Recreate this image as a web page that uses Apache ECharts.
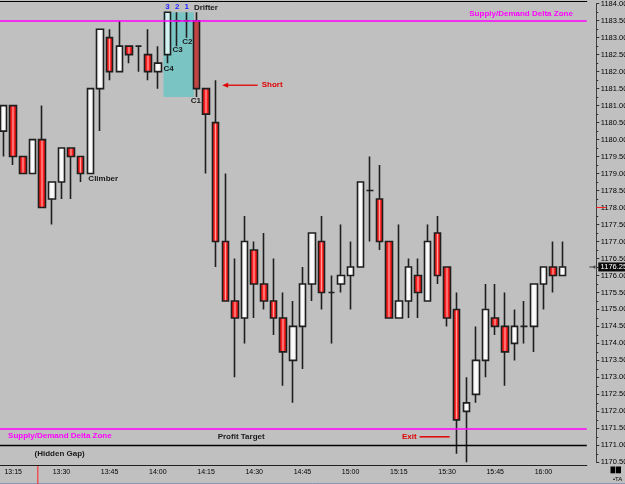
<!DOCTYPE html>
<html>
<head>
<meta charset="utf-8">
<script src="https://cdn.jsdelivr.net/npm/echarts@6/dist/echarts.min.js"></script>
<style>
  html, body { margin: 0; padding: 0; background: #c0c0c0; }
  #chart { width: 625px; height: 484px; }
</style>
</head>
<body>
<div id="chart"></div>
<script>
// 3-minute bars, 13:12 .. 16:06 (two empty slots at the right)
const times = [
  "13:12", "13:15", "13:18", "13:21", "13:24", "13:27", "13:30", "13:33", "13:36", "13:39",
  "13:42", "13:45", "13:48", "13:51", "13:54", "13:57", "14:00", "14:03", "14:06", "14:09",
  "14:12", "14:15", "14:18", "14:21", "14:24", "14:27", "14:30", "14:33", "14:36", "14:39",
  "14:42", "14:45", "14:48", "14:51", "14:54", "14:57", "15:00", "15:03", "15:06", "15:09",
  "15:12", "15:15", "15:18", "15:21", "15:24", "15:27", "15:30", "15:33", "15:36", "15:39",
  "15:42", "15:45", "15:48", "15:51", "15:54", "15:57", "16:00", "16:03", "16:06", "16:09",
  "16:12"
];
const openP = [
  1180.25, 1181.00, 1179.50, 1179.00, 1180.00, 1178.25, 1178.75, 1179.75, 1179.50, 1179.00,
  1181.50, 1183.00, 1182.00, 1182.75, 1182.75, 1182.50, 1182.00, 1182.50, 1183.50, 1183.50,
  1183.50, 1181.50, 1180.50, 1177.00, 1175.25, 1174.75, 1176.75, 1175.75, 1175.25, 1174.75,
  1173.50, 1174.50, 1175.75, 1177.00, 1175.50, 1175.75, 1176.00, 1176.25, 1178.50, 1178.25,
  1177.00, 1174.75, 1175.25, 1176.00, 1175.25, 1177.25, 1176.25, 1175.00, 1172.00, 1172.50,
  1173.50, 1174.75, 1174.50, 1174.00, 1174.50, 1174.50, 1175.75, 1176.25, 1176.00
];
const closeP = [
  1181.00, 1179.50, 1179.00, 1180.00, 1178.00, 1178.75, 1179.75, 1179.50, 1179.00, 1181.50,
  1183.25, 1182.00, 1182.75, 1182.50, 1182.75, 1182.00, 1182.25, 1183.75, 1183.50, 1183.50,
  1181.50, 1180.75, 1177.00, 1175.25, 1174.75, 1177.00, 1175.75, 1175.25, 1174.75, 1173.75,
  1174.50, 1175.75, 1177.25, 1175.50, 1175.50, 1176.00, 1176.25, 1178.75, 1178.50, 1177.00,
  1174.75, 1175.25, 1176.25, 1175.50, 1177.00, 1176.00, 1174.75, 1171.75, 1172.25, 1173.50,
  1175.00, 1174.50, 1173.75, 1174.50, 1174.50, 1175.75, 1176.25, 1176.00, 1176.25
];
const lowP = [
  1179.50, 1179.25, 1179.00, 1179.00, 1178.00, 1177.50, 1178.25, 1178.25, 1178.75, 1179.00,
  1180.25, 1181.75, 1182.00, 1182.25, 1182.00, 1181.75, 1181.50, 1182.25, 1182.75, 1183.00,
  1181.25, 1179.00, 1176.25, 1175.25, 1173.00, 1174.00, 1174.75, 1175.00, 1174.25, 1172.75,
  1172.25, 1173.25, 1175.25, 1175.00, 1174.00, 1175.50, 1175.00, 1176.25, 1177.00, 1176.75,
  1174.75, 1174.75, 1174.75, 1174.75, 1175.25, 1175.75, 1174.50, 1170.75, 1170.50, 1172.25,
  1173.00, 1174.25, 1172.75, 1173.50, 1174.00, 1173.75, 1175.00, 1175.50, 1176.00
];
const highP = [
  1181.00, 1181.00, 1179.50, 1180.00, 1181.00, 1178.75, 1179.75, 1179.75, 1179.50, 1181.50,
  1183.25, 1183.25, 1183.50, 1182.75, 1182.75, 1183.25, 1182.75, 1183.75, 1183.75, 1183.75,
  1183.75, 1181.50, 1181.75, 1179.00, 1176.50, 1177.75, 1177.00, 1177.25, 1176.50, 1175.50,
  1175.25, 1176.25, 1177.25, 1177.75, 1176.00, 1177.50, 1177.00, 1178.75, 1179.50, 1179.25,
  1177.00, 1177.50, 1176.50, 1176.50, 1177.50, 1177.75, 1176.25, 1175.50, 1173.00, 1174.50,
  1175.75, 1175.75, 1175.50, 1175.00, 1175.25, 1175.75, 1176.25, 1177.00, 1177.00
];
// price scale
const yMin = 1170.5;
const yMax = 1184;
const yStep = 0.5;
// levels
const supplyTop = 1183.5;
const supplyBottom = 1171.5;
const profitTarget = 1171.0;
const lastPrice = 1176.25;

const FONT = '"Liberation Sans", Arial, sans-serif';
const labelEvery = function (i) { return i % 5 === 1; };

let redFill = new echarts.graphic.LinearGradient(0, 0, 1, 0, [
  { offset: 0, color: "#d80000" },
  { offset: 0.35, color: "#ff2424" },
  { offset: 0.5, color: "#ff9c9c" },
  { offset: 0.65, color: "#ff2424" },
  { offset: 1, color: "#d80000" }
]);
let whiteFill = new echarts.graphic.LinearGradient(0, 0, 1, 0, [
  { offset: 0, color: "#e2e2e2" },
  { offset: 0.5, color: "#ffffff" },
  { offset: 1, color: "#e2e2e2" }
]);

let candleData = [];
for (let i = 0; i < openP.length; i++) {
  let item = { value: [openP[i], closeP[i], lowP[i], highP[i]] };
  if (i === 17) {
    item.itemStyle = { color: "#d2f2f2" };
  }
  if (i === 20) {
    item.itemStyle = { color0: "#c04646" };
  }
  candleData.push(item);
}

let myChart = echarts.init(document.getElementById("chart"));
let option = {
  animation: false,
  backgroundColor: "#c0c0c0",
  grid: { left: -1.22, top: 3.7, width: 588, height: 458.6, outerBoundsMode: "none", containLabel: false },
  xAxis: [
    {
      type: "category",
      data: times,
      boundaryGap: true,
      offset: 3.4,
      axisLine: { lineStyle: { color: "#202020", width: 1 } },
      axisTick: { interval: labelEvery, alignWithLabel: true, length: 4, lineStyle: { color: "#202020" } },
      axisLabel: { interval: labelEvery, fontSize: 7, fontFamily: FONT, color: "#000", margin: 3 },
      splitLine: { show: false }
    },
    {
      type: "category",
      data: times,
      position: "top",
      offset: 2,
      axisLine: { lineStyle: { color: "#000", width: 1 } },
      axisTick: { show: false },
      axisLabel: { show: false }
    }
  ],
  yAxis: {
    type: "value",
    position: "right",
    offset: 9.5,
    min: yMin,
    max: yMax,
    interval: yStep,
    axisLine: { show: true, lineStyle: { color: "#404040" } },
    axisTick: { show: true, length: 3, lineStyle: { color: "#303030" } },
    minorTick: { show: true, splitNumber: 2, length: 2, lineStyle: { color: "#303030" } },
    axisLabel: {
      fontSize: 7.5,
      fontFamily: FONT,
      color: "#000",
      margin: 4.5,
      formatter: function (v) { return v.toFixed(2); }
    },
    splitLine: { show: false }
  },
  series: [
    {
      type: "candlestick",
      data: candleData,
      barWidth: 7,
      itemStyle: {
        color: whiteFill,
        color0: redFill,
        borderColor: "#1e1e1e",
        borderColor0: "#1e1e1e",
        borderWidth: 1.6
      },
      markLine: {
        silent: true,
        symbol: ["none", "none"],
        label: { show: false },
        data: [
          { yAxis: supplyTop, lineStyle: { color: "#ff00ff", width: 1.5, type: "solid" } },
          { yAxis: supplyBottom, lineStyle: { color: "#ff00ff", width: 1.5, type: "solid" } },
          { yAxis: profitTarget, lineStyle: { color: "#000", width: 1.3, type: "solid" } }
        ]
      }
    }
  ]
};
myChart.setOption(option, true);

// annotations anchored through the chart's own scales
function P(k, v) {
  return myChart.convertToPixel({ xAxisIndex: 0, yAxisIndex: 0 }, [k, v]);
}
function txt(x, y, text, color, align, size) {
  return {
    type: "text",
    x: x,
    y: y,
    z: 10,
    style: {
      text: text,
      fill: color,
      font: "bold " + (size || 8) + "px " + FONT,
      textAlign: align || "left",
      textVerticalAlign: "middle"
    }
  };
}
let topY = P(0, 1183.75)[1];
let boxBottom = P(0, 1181.25)[1];
let shortY = P(0, 1181.6)[1];
let exitY = P(0, 1171.25)[1];
let lastY = P(0, lastPrice)[1];
let x22 = P(22, lastPrice)[0];
let x47 = P(47, lastPrice)[0];
let axisX = 596.3;

let graphics = [
  // teal zone behind the C1..C4 bars
  {
    type: "rect",
    z: 1,
    shape: { x: P(17, 0)[0] - 4, y: topY, width: P(20, 0)[0] - 2.5 - (P(17, 0)[0] - 4), height: boxBottom - topY },
    style: { fill: "#7bc4c4" }
  },
  txt(P(17, 0)[0], topY - 5, "3", "#2424ff", "center"),
  txt(P(18, 0)[0], topY - 5, "2", "#2424ff", "center"),
  txt(P(19, 0)[0], topY - 5, "1", "#2424ff", "center"),
  txt(P(20, 0)[0] - 2.5, topY - 4.5, "Drifter", "#1a1a1a"),
  txt(P(20, 0)[0] - 0.5, P(0, 1181.25)[1] + 3.5, "C1", "#1a1a1a", "center"),
  txt(P(19, 0)[0] + 0.5, P(0, 1183.0)[1] + 4, "C2", "#1a1a1a", "center"),
  txt(P(18, 0)[0] + 0.5, P(0, 1182.75)[1] + 4, "C3", "#1a1a1a", "center"),
  txt(P(17, 0)[0] - 4, P(0, 1182.0)[1] - 3, "C4", "#1a1a1a"),
  txt(P(9, 0)[0] - 2, P(0, 1179.0)[1] + 5, "Climber", "#1a1a1a"),
  // Short arrow
  txt(x22 + 46, shortY, "Short", "#e00000"),
  {
    type: "line", z: 10,
    shape: { x1: x22 + 11, y1: shortY, x2: x22 + 42, y2: shortY },
    style: { stroke: "#e00000", lineWidth: 1.3 }
  },
  {
    type: "polygon", z: 10,
    shape: { points: [[x22 + 6.5, shortY], [x22 + 12.5, shortY - 2.5], [x22 + 12.5, shortY + 2.5]] },
    style: { fill: "#e00000" }
  },
  // Exit
  txt(x47 - 40, exitY, "Exit", "#e00000", "right"),
  {
    type: "line", z: 10,
    shape: { x1: x47 - 37, y1: exitY, x2: x47 - 7, y2: exitY },
    style: { stroke: "#e00000", lineWidth: 1.5 }
  },
  txt(P(22, 0)[0] + 2, exitY, "Profit Target", "#1a1a1a"),
  txt(P(0, 0)[0] + 4.5, exitY - 1, "Supply/Demand Delta Zone", "#ff00ff"),
  txt(P(3, 0)[0] + 2, P(0, 1170.75)[1], "(Hidden Gap)", "#1a1a1a"),
  txt(P(48, 0)[0] + 3, topY + 2, "Supply/Demand Delta Zone", "#ff00ff"),
  // last price box on the axis
  {
    type: "rect", z: 10,
    shape: { x: axisX + 2, y: lastY - 4.5, width: 30, height: 9 },
    style: { fill: "#0a0a0a" }
  },
  {
    type: "text", z: 11, x: axisX + 4.3, y: lastY,
    style: { text: lastPrice.toFixed(2), fill: "#fff", font: "7.5px " + FONT, textVerticalAlign: "middle" }
  },
  {
    type: "line", z: 10,
    shape: { x1: axisX - 7, y1: lastY, x2: axisX - 1, y2: lastY },
    style: { stroke: "#404040", lineWidth: 1 }
  },
  {
    type: "polygon", z: 10,
    shape: { points: [[axisX - 3.5, lastY], [axisX - 1, lastY - 2], [axisX - 1, lastY + 2]] },
    style: { fill: "#404040" }
  },
  // red marker at 1178 on the axis
  {
    type: "line", z: 10,
    shape: { x1: axisX, y1: P(0, 1178)[1], x2: axisX + 10, y2: P(0, 1178)[1] },
    style: { stroke: "#ff2020", lineWidth: 1 }
  },
  // session start marker
  {
    type: "line", z: 10,
    shape: { x1: (P(3, 0)[0] + P(4, 0)[0]) / 2 + 0.5, y1: 466, x2: (P(3, 0)[0] + P(4, 0)[0]) / 2 + 0.5, y2: 484 },
    style: { stroke: "#ff2020", lineWidth: 1 }
  },
  // bottom-right widgets
  { type: "rect", z: 10, shape: { x: 610.5, y: 466.5, width: 4.8, height: 6.8 }, style: { fill: "#000" } },
  { type: "rect", z: 10, shape: { x: 616, y: 466.5, width: 5, height: 6.8 }, style: { fill: "#000" } },
  {
    type: "text", z: 10, x: 613, y: 479.5,
    style: { text: "•TA", fill: "#000", font: "6px " + FONT, textVerticalAlign: "middle" }
  },
  {
    type: "line", z: 9,
    shape: { x1: 0, y1: 483.5, x2: 625, y2: 483.5 },
    style: { stroke: "#8a98b4", lineWidth: 1 }
  }
];
myChart.setOption({ graphic: graphics });
window.addEventListener("resize", () => {
  myChart.resize();
});
</script>
</body>
</html>
